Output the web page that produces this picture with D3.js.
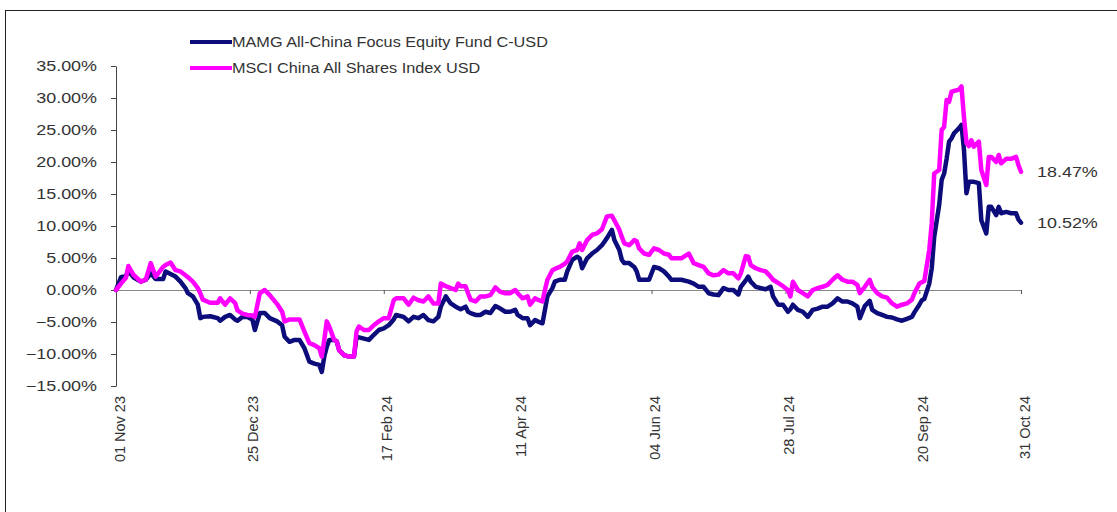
<!DOCTYPE html>
<html>
<head>
<meta charset="utf-8">
<script src="https://cdn.jsdelivr.net/npm/d3@7"></script>
<style>
  html, body { margin: 0; padding: 0; background: #fff; }
  svg { display: block; font-family: "Liberation Sans", Arial, sans-serif; }
  .lbl { fill: #333; font-size: 14px; }
</style>
</head>
<body>
<svg id="chart" width="1117" height="512"></svg>
<script>
// ── Data (cumulative return, %) ───────────────────────────────────────────────
const seriesNames = ["MAMG All-China Focus Equity Fund C-USD", "MSCI China All Shares Index USD"];
const seriesColors = ["#0c0c7a", "#ff00ff"];

const dates = [
  "2023-11-01","2023-11-03","2023-11-05","2023-11-06","2023-11-08","2023-11-11","2023-11-13","2023-11-15",
  "2023-11-17","2023-11-20","2023-11-21","2023-11-23","2023-11-25","2023-11-27","2023-11-29","2023-11-30",
  "2023-12-02","2023-12-04","2023-12-05","2023-12-06","2023-12-09","2023-12-12","2023-12-13","2023-12-15",
  "2023-12-17","2023-12-19","2023-12-20","2023-12-22","2023-12-24","2023-12-26","2023-12-27","2023-12-29",
  "2023-12-31","2024-01-02","2024-01-05","2024-01-07","2024-01-08","2024-01-10","2024-01-12","2024-01-14",
  "2024-01-16","2024-01-18","2024-01-20","2024-01-22","2024-01-23","2024-01-24","2024-01-25","2024-01-26",
  "2024-01-28","2024-01-29","2024-01-30","2024-02-01","2024-02-03","2024-02-05","2024-02-06","2024-02-07",
  "2024-02-09","2024-02-11","2024-02-13","2024-02-15","2024-02-17","2024-02-19","2024-02-21","2024-02-22",
  "2024-02-25","2024-02-27","2024-02-29","2024-03-02","2024-03-04","2024-03-06","2024-03-08","2024-03-10",
  "2024-03-11","2024-03-13","2024-03-15","2024-03-17","2024-03-18","2024-03-19","2024-03-21","2024-03-22",
  "2024-03-23","2024-03-25","2024-03-27","2024-03-29","2024-03-31","2024-04-02","2024-04-04","2024-04-06",
  "2024-04-08","2024-04-10","2024-04-11","2024-04-13","2024-04-15","2024-04-16","2024-04-18","2024-04-19",
  "2024-04-21","2024-04-22","2024-04-23","2024-04-25","2024-04-26","2024-04-28","2024-04-30","2024-05-01",
  "2024-05-03","2024-05-05","2024-05-06","2024-05-07","2024-05-09","2024-05-11","2024-05-13","2024-05-15",
  "2024-05-17","2024-05-19","2024-05-20","2024-05-22","2024-05-23","2024-05-24","2024-05-26","2024-05-28",
  "2024-05-29","2024-05-30","2024-06-01","2024-06-03","2024-06-05","2024-06-07","2024-06-09","2024-06-11",
  "2024-06-12","2024-06-14","2024-06-16","2024-06-19","2024-06-21","2024-06-23","2024-06-25","2024-06-27",
  "2024-06-29","2024-07-01","2024-07-03","2024-07-05","2024-07-07","2024-07-09","2024-07-10","2024-07-12",
  "2024-07-13","2024-07-14","2024-07-16","2024-07-18","2024-07-20","2024-07-22","2024-07-23","2024-07-25",
  "2024-07-27","2024-07-29","2024-07-30","2024-07-31","2024-08-02","2024-08-04","2024-08-06","2024-08-08",
  "2024-08-10","2024-08-12","2024-08-14","2024-08-16","2024-08-18","2024-08-20","2024-08-22","2024-08-24",
  "2024-08-26","2024-08-27","2024-08-29","2024-08-31","2024-09-01","2024-09-03","2024-09-05","2024-09-07",
  "2024-09-09","2024-09-11","2024-09-13","2024-09-15","2024-09-17","2024-09-18","2024-09-20","2024-09-21",
  "2024-09-22","2024-09-24","2024-09-25","2024-09-26","2024-09-28","2024-09-29","2024-09-30","2024-10-01",
  "2024-10-02","2024-10-03","2024-10-04","2024-10-06","2024-10-07","2024-10-08","2024-10-09","2024-10-10",
  "2024-10-11","2024-10-12","2024-10-14","2024-10-15","2024-10-17","2024-10-18","2024-10-19","2024-10-21",
  "2024-10-22","2024-10-23","2024-10-25","2024-10-27","2024-10-29","2024-10-30","2024-10-31"
];

const fundValues = [
  0, 2.0, 2.2, 3.0, 2.0, 1.3, 1.6, 2.6,
  1.7, 1.7, 2.9, 2.5, 2.1, 1.3, 0.3, -0.5,
  -1.0, -2.3, -4.4, -4.2, -4.1, -4.4, -4.8, -4.2,
  -3.9, -4.6, -4.8, -4.2, -4.2, -4.6, -6.25, -3.6,
  -3.6, -4.4, -4.9, -5.5, -7.3, -8.1, -7.8, -7.8,
  -9.1, -11.2, -11.5, -11.7, -12.8, -10.4, -8.9, -7.8,
  -7.8, -8.0, -9.4, -10.2, -10.4, -10.4, -7.3, -7.4,
  -7.6, -7.8, -7.0, -6.25, -6.0, -5.5, -4.6, -3.9,
  -4.2, -4.9, -4.2, -4.4, -3.9, -4.7, -4.9, -4.2,
  -2.6, -1.0, -2.1, -2.6, -2.8, -3.0, -2.6, -3.4,
  -3.6, -3.9, -3.9, -3.4, -3.6, -2.5, -2.9, -3.4,
  -3.4, -3.1, -3.9, -4.4, -4.4, -5.5, -4.7, -4.9,
  -5.2, -3.1, -1.0, 0.3, 1.3, 1.6, 1.6, 2.9,
  4.7, 5.2, 4.95, 3.4, 4.95, 5.7, 6.25, 7.0,
  8.1, 9.4, 7.8, 6.25, 4.7, 4.2, 4.2, 3.6,
  2.9, 1.6, 1.6, 1.6, 3.6, 3.4, 2.9, 2.1,
  1.6, 1.6, 1.6, 1.3, 1.0, 0.5, 0.5, -0.5,
  -0.7, -0.8, 0.3, 0, 0, -0.7, 0.5, 1.5,
  2.1, 1.3, 0.5, 0.3, 0.1, 0.5, -1.0, -2.3,
  -2.3, -3.4, -3.0, -2.3, -3.1, -3.4, -4.2, -3.1,
  -2.9, -2.6, -2.6, -2.1, -1.3, -1.8, -1.8, -2.1,
  -2.6, -4.4, -2.5, -1.7, -3.1, -3.6, -3.9, -4.2,
  -4.3, -4.6, -4.8, -4.5, -4.2, -3.5, -2.3, -1.6,
  -1.4, 1.0, 3.4, 8.3, 13.3, 17.2, 18.2, 20.5,
  23.2, 23.7, 24.5, 25.3, 25.8, 21.9, 15.1, 16.9,
  16.9, 16.9, 16.7, 10.9, 8.85, 13.0, 13.0, 11.7,
  13.0, 12.0, 12.2, 12.0, 12.0, 11.0, 10.52
];

const indexValues = [
  0, 1.0, 1.9, 3.75, 2.4, 1.3, 1.6, 4.2,
  2.1, 3.6, 3.9, 4.3, 3.1, 2.9, 2.3, 2.0,
  1.3, 0.3, -0.5, -1.5, -2.0, -2.0, -1.3, -2.3,
  -1.3, -2.0, -3.2, -3.7, -3.9, -4.0, -4.2, -0.5,
  0, -0.8, -2.2, -3.4, -4.9, -4.6, -4.6, -4.6,
  -6.5, -8.3, -8.6, -9.1, -10.4, -7.8, -4.9, -5.7,
  -7.8, -8.0, -9.4, -10.2, -10.4, -10.4, -6.5, -5.7,
  -6.25, -6.25, -5.5, -4.9, -4.4, -4.4, -1.6, -1.3,
  -1.3, -2.3, -1.2, -1.6, -1.8, -1.0, -2.1, -2.1,
  1.0, 0.6, 0.3, 0, 1.0, 0.6, 0.6, -0.5,
  -1.5, -1.8, -1.0, -1.0, -0.8, 0.4, -0.3, -0.5,
  -0.5, 0, -0.5, -1.3, -1.0, -2.3, -1.3, -1.5,
  -1.8, 0, 1.6, 3.1, 3.3, 3.6, 4.1, 4.5,
  6.0, 6.25, 7.3, 6.25, 7.8, 8.6, 8.85, 9.5,
  11.5, 11.6, 10.9, 9.4, 8.3, 7.3, 7.0, 7.8,
  7.6, 6.5, 5.7, 5.5, 6.5, 6.25, 5.7, 5.5,
  4.95, 4.95, 4.95, 5.7, 4.2, 3.9, 3.6, 2.6,
  2.3, 2.4, 3.1, 2.6, 2.6, 1.8, 2.6, 5.3,
  5.2, 3.9, 3.4, 3.1, 2.9, 2.1, 1.6, 1.1,
  0.6, 0, -1.0, 1.3, 0, -0.5, -1.0, 0,
  0.3, 0.5, 0.8, 1.6, 2.3, 1.6, 1.3, 1.3,
  0.8, -0.5, 0.5, 1.6, 0.5, -0.5, -1.0, -1.2,
  -2.1, -2.6, -2.3, -2.1, -1.5, -0.5, 1.0, 1.2,
  1.4, 6.25, 10.4, 18.2, 18.75, 25.0, 25.5, 29.7,
  29.4, 31.0, 31.1, 31.3, 31.8, 27.0, 23.0, 22.5,
  23.4, 22.4, 23.2, 18.75, 16.4, 20.8, 20.8, 20.0,
  21.1, 19.8, 20.5, 20.5, 20.8, 19.5, 18.47
];

const yTicks = [-15, -10, -5, 0, 5, 10, 15, 20, 25, 30, 35];
const xTickDates = ["2023-11-01","2023-12-25","2024-02-17","2024-04-11","2024-06-04","2024-07-28","2024-09-20","2024-10-31"];

// ── Setup ─────────────────────────────────────────────────────────────────────
const W = 1117, H = 512;
const margin = { top: 66, right: 96, bottom: 126, left: 116 };
const STRETCH = 1.16;   // source image text is horizontally stretched

const parse = d3.utcParse("%Y-%m-%d");
const svg = d3.select("#chart");

function stretch(sel, k) {
  sel.each(function () {
    const len = this.getComputedTextLength();
    d3.select(this).attr("textLength", len * k).attr("lengthAdjust", "spacingAndGlyphs");
  });
}

// outer frame
svg.append("rect")
  .attr("x", 5.5).attr("y", 10.5)
  .attr("width", W + 20).attr("height", H + 20)
  .attr("fill", "none").attr("stroke", "#222").attr("stroke-width", 1);

const x = d3.scaleUtc()
  .domain([parse(dates[0]), parse(dates[dates.length - 1])])
  .range([margin.left, W - margin.right]);

const y = d3.scaleLinear()
  .domain([-15, 35])
  .range([H - margin.bottom, margin.top]);

// ── Axes ──────────────────────────────────────────────────────────────────────
const yAxis = svg.append("g")
  .attr("transform", `translate(${margin.left},0)`)
  .call(d3.axisLeft(y).tickValues(yTicks).tickSize(5).tickSizeOuter(0).tickPadding(14)
    .tickFormat(d => d3.format(".2f")(d) + "%"));
yAxis.select(".domain").attr("stroke", "#444");
yAxis.selectAll(".tick line").attr("stroke", "#444");
yAxis.selectAll(".tick text").attr("class", "lbl").style("font-size", "14px").call(stretch, STRETCH + 0.12);

// zero line with small ticks
const zeroAxis = svg.append("g")
  .attr("transform", `translate(0,${y(0)})`)
  .call(d3.axisBottom(x).tickValues(xTickDates.map(parse)).tickSize(4).tickSizeOuter(0).tickFormat(""));
zeroAxis.select(".domain").attr("stroke", "#888");
zeroAxis.selectAll(".tick line").attr("stroke", "#555");

// rotated date labels at the bottom
const xLabels = svg.append("g")
  .attr("transform", `translate(0,${y(-15)})`)
  .call(d3.axisBottom(x).tickValues(xTickDates.map(parse)).tickSize(0)
    .tickFormat(d3.utcFormat("%d %b %y")));
xLabels.select(".domain").remove();
xLabels.selectAll(".tick text")
  .attr("class", "lbl")
  .style("font-size", "14.5px")
  .attr("transform", "rotate(-90)")
  .attr("text-anchor", "end")
  .attr("x", -10).attr("y", 3).attr("dy", "0.35em");

// ── Lines ─────────────────────────────────────────────────────────────────────
const line = d3.line()
  .x((d, i) => x(parse(dates[i])))
  .y(d => y(d));

[fundValues, indexValues].forEach((vals, k) => {
  svg.append("path")
    .datum(vals)
    .attr("fill", "none")
    .attr("stroke", seriesColors[k])
    .attr("stroke-width", 4.5)
    .attr("stroke-linejoin", "round")
    .attr("stroke-linecap", "round")
    .attr("d", line);
});

// end value labels
[fundValues, indexValues].forEach(vals => {
  const last = vals[vals.length - 1];
  svg.append("text")
    .attr("class", "lbl")
    .attr("x", x(parse(dates[dates.length - 1])) + 16)
    .attr("y", y(last))
    .attr("dy", "0.35em")
    .text(d3.format(".2f")(last) + "%")
    .call(stretch, STRETCH + 0.12);
});

// ── Legend ────────────────────────────────────────────────────────────────────
const legend = svg.append("g").attr("transform", "translate(190,42)");
seriesNames.forEach((name, k) => {
  const row = legend.append("g").attr("transform", `translate(0,${k * 26})`);
  row.append("line")
    .attr("x1", 0).attr("x2", 42)
    .attr("stroke", seriesColors[k]).attr("stroke-width", 4);
  row.append("text")
    .attr("class", "lbl")
    .attr("x", 42).attr("dy", "0.35em")
    .text(name)
    .call(stretch, STRETCH);
});
</script>
</body>
</html>
